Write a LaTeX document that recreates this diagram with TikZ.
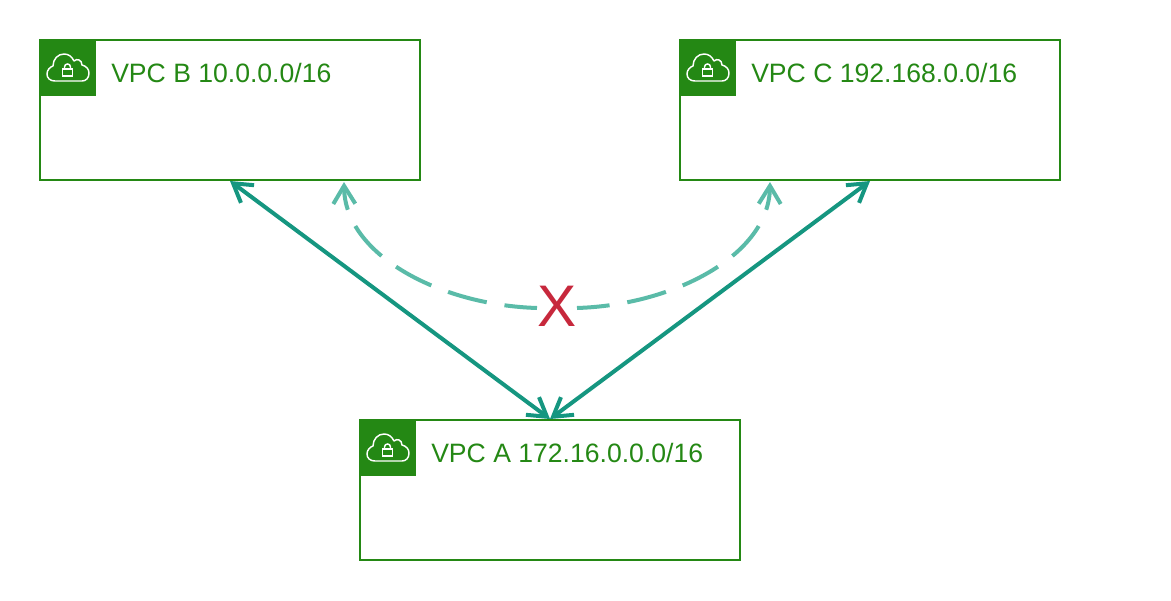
\documentclass[tikz,border=0pt]{standalone}
\usepackage{fontspec}
\setmainfont{Liberation Sans}
\usetikzlibrary{arrows.meta}
\definecolor{vpcgreen}{HTML}{248814}
\definecolor{peerline}{HTML}{159680}
\definecolor{nopeerline}{HTML}{5ABBA8}
\definecolor{crossred}{HTML}{C7283C}
\tikzset{
	vpcbox/.style={draw=vpcgreen, line width=1.5pt, fill=white, minimum width=285pt, minimum height=105pt, inner sep=0pt},
	vpctag/.style={fill=vpcgreen, minimum size=42pt, inner sep=0pt, outer sep=0pt},
	vpctext/.style={text=vpcgreen, font=\fontsize{19.93}{24}\selectfont, anchor=west, inner sep=0pt},
	peer/.style={peerline, line width=3pt, {Straight Barb[length=13.5pt,width=16.5pt]}-{Straight Barb[length=13.5pt,width=16.5pt]}},
	nopeer/.style={nopeerline, line width=3pt, dash pattern=on 30pt off 13.5pt, dash phase=5.5pt, -{Straight Barb[length=13.5pt,width=16.5pt]}},
	vpcicon/.pic={
		\draw[white, line width=1.1pt, line join=round]
			(-13,13) .. controls (-18,13) and (-21,10) .. (-21,6)
			.. controls (-21,2) and (-18,-1) .. (-15,-2)
			.. controls (-15,-9) and (-10,-14) .. (-4,-14)
			.. controls (1,-14) and (4,-11) .. (6,-7)
			.. controls (9,-10) and (14,-8) .. (14,-3)
			.. controls (18,-2) and (21,1) .. (21,5)
			.. controls (21,10) and (18,13) .. (14,13) -- cycle;
		\draw[white, line width=1.1pt] (-5.5,1) rectangle (4.5,8);
		\draw[white, line width=1.1pt] (-3.5,1) -- (-3.5,-1) .. controls (-3.5,-5) and (2.5,-5) .. (2.5,-1) -- (2.5,1);
	}
}
\begin{document}
\begin{tikzpicture}[x=0.75pt, y=-0.75pt]
	\useasboundingbox (0,0) rectangle (1171,600);
	\node[vpcbox] (vpcb) at (230,110) {};
	\node[vpcbox] (vpcc) at (870,110) {};
	\node[vpcbox] (vpca) at (550,490) {};
	\node[vpctag, anchor=north west] (tagb) at (40,40) {};
	\node[vpctag, anchor=north west] (tagc) at (680,40) {};
	\node[vpctag, anchor=north west] (taga) at (360,420) {};
	\pic at (tagb) {vpcicon};
	\pic at (tagc) {vpcicon};
	\pic at (taga) {vpcicon};
	\node[vpctext] (textb) at (111,73) {VPC B 10.0.0.0/16};
	\node[vpctext] (textc) at (751,73) {VPC C 192.168.0.0/16};
	\node[vpctext] (texta) at (431,453) {VPC A 172.16.0.0.0/16};
	\node[text=crossred, font=\fontsize{44}{48}\selectfont, inner sep=0pt] (cross) at (557,306) {X};
	\coordinate (endb) at (344,182);
	\coordinate (endc) at (770,182);
	\coordinate (crossl) at (537,308);
	\coordinate (crossr) at (577,308);
	% direct peerings
	\draw[peer] (vpcb.south) -- (vpca.north);
	\draw[peer] (vpcc.south) -- (vpca.north);
	% no transit between B and C
	\draw[nopeer] (crossl) .. controls (440,305) and (345,255) .. (endb);
	\draw[nopeer] (crossr) .. controls (674,305) and (769,255) .. (endc);
\end{tikzpicture}
\end{document}
